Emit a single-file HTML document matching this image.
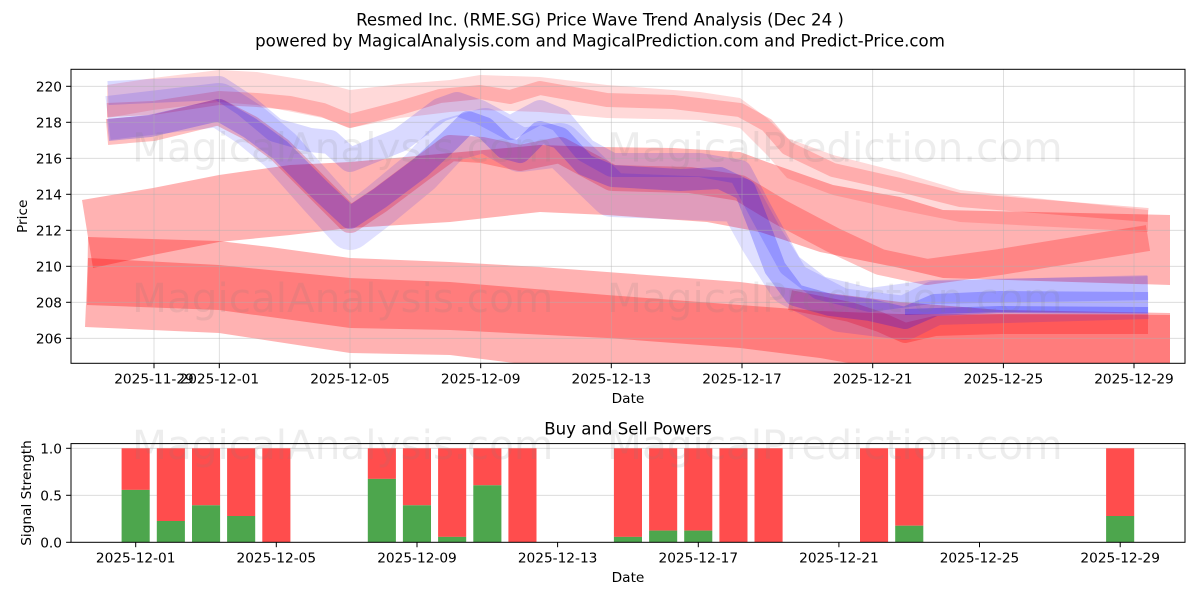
<!DOCTYPE html>
<html>
<head>
<meta charset="utf-8">
<style>
html,body{margin:0;padding:0;background:#fff;}
svg{display:block;}
text{font-family:"DejaVu Sans","Liberation Sans",sans-serif;fill:#000;}
</style>
</head>
<body>
<svg width="1200" height="600" viewBox="0 0 1200 600" xmlns="http://www.w3.org/2000/svg">
<rect x="0" y="0" width="1200" height="600" fill="#fff"/>
<defs>
<clipPath id="ctop"><rect x="71" y="69.3" width="1114" height="294"/></clipPath>
</defs>

<!-- Titles -->
<text x="600" y="25.5" font-size="16.6" text-anchor="middle">Resmed Inc. (RME.SG) Price Wave Trend Analysis (Dec 24 )</text>
<text x="600" y="46.5" font-size="16.6" text-anchor="middle">powered by MagicalAnalysis.com and MagicalPrediction.com and Predict-Price.com</text>

<!-- TOP CHART BANDS -->
<g clip-path="url(#ctop)">
  <!-- faint top pink -->
  <polygon fill="#ff0000" fill-opacity="0.15" points="107,85 153,78 219,70 257,72 323,83 350,90 400,84 450,80 480,75 540,77 607,85 700,92 740,98 767,118 787,138 833,155 900,172 960,190 1148,210 1148,232 960,222 900,210 833,195 787,178 767,155 740,128 700,120 607,118 540,112 480,110 450,112 400,118 350,128 323,118 257,105 219,102 153,110 107,118"/>
  <!-- B band -->
  <polygon fill="#ff0000" fill-opacity="0.3" points="82,200 153,188 219,175 290,165 350,162 450,153 540,145 600,147 673,148 740,152 767,162 833,185 900,197 943,210 1170,215 1170,285 943,278 900,268 820,252 760,232 707,222 607,215 540,212 450,222 350,228 290,235 219,242 153,255 93,268"/>
  <!-- P band -->
  <polygon fill="#ff0000" fill-opacity="0.3" points="88,237 219,241 270,247 350,258 450,262 540,267 607,272 740,282 820,292 900,302 1000,310 1170,313 1170,400 900,372 820,358 740,348 607,338 450,330 350,328 219,310 87,305"/>
  <!-- Q band -->
  <polygon fill="#ff0000" fill-opacity="0.3" points="88,258 219,265 350,278 450,282 607,295 740,305 820,311 900,314 1170,315 1170,420 530,365 450,355 350,353 219,333 85,327"/>

  <g fill="none" stroke-linejoin="round" stroke-linecap="butt">
    <!-- T2 pink -->
    <polyline stroke="#ff0000" stroke-opacity="0.2" stroke-width="14" points="107,110 153,108 219,98 257,100 290,103 323,110 350,121 400,108 440,96 480,92 510,97 540,88 607,100 673,102 740,110 767,125 787,148 833,170 900,185 960,200 1148,215"/>
    <!-- D1 red -->
    <polyline stroke="#ff0000" stroke-opacity="0.25" stroke-width="26" points="107,132 153,128 219,112 250,128 280,150 320,190 350,220 380,200 420,170 450,148 482,150 520,158 560,150 612,178 690,180 740,188 780,212 833,240 880,262 927,272 1000,262 1148,238"/>
    <!-- D2 red -->
    <polyline stroke="#ff0000" stroke-opacity="0.28" stroke-width="20" points="790,300 850,312 880,322 905,333 935,326 1000,324 1148,324"/>
    <!-- Blue halo -->
    <polyline stroke="#0000ff" stroke-opacity="0.12" stroke-width="44" points="108,118 219,105 250,125 280,150 320,195 350,228 380,205 420,172 450,140 485,130 520,150 560,145 612,195 740,200 762,240 790,284 840,310 905,318 935,303 1148,297"/>
    <!-- Blue upper -->
    <polyline stroke="#0000ff" stroke-opacity="0.15" stroke-width="24" points="108,93 219,88 245,105 275,130 310,140 330,142 350,160 400,140 440,110 457,104 480,112 510,128 540,112 560,120 585,150 612,165 700,165 740,172 760,210 790,265 820,288 870,300 930,292 1148,288"/>
    <!-- Blue core -->
    <polyline stroke="#0000ff" stroke-opacity="0.22" stroke-width="22" points="108,130 150,126 219,110 250,128 280,150 320,190 350,218 380,198 420,168 450,140 468,122 485,128 505,148 520,152 540,132 560,138 585,165 612,176 680,180 720,178 745,190 760,228 775,268 795,295 830,305 870,310 905,318 935,305 1000,302 1148,303"/>
    <!-- deep blue line -->
    <polyline stroke="#0000ff" stroke-opacity="0.25" stroke-width="6" points="905,312 1000,309 1148,310"/>
  </g>
</g>

<!-- top grid -->
<g stroke="#b0b0b0" stroke-opacity="0.5" stroke-width="0.8">
  <line x1="154" y1="69.3" x2="154" y2="363.3"/>
  <line x1="219.3" y1="69.3" x2="219.3" y2="363.3"/>
  <line x1="350" y1="69.3" x2="350" y2="363.3"/>
  <line x1="480.7" y1="69.3" x2="480.7" y2="363.3"/>
  <line x1="611.3" y1="69.3" x2="611.3" y2="363.3"/>
  <line x1="742" y1="69.3" x2="742" y2="363.3"/>
  <line x1="872.7" y1="69.3" x2="872.7" y2="363.3"/>
  <line x1="1003.4" y1="69.3" x2="1003.4" y2="363.3"/>
  <line x1="1134" y1="69.3" x2="1134" y2="363.3"/>
  <line x1="71" y1="86.3" x2="1185" y2="86.3"/>
  <line x1="71" y1="122.3" x2="1185" y2="122.3"/>
  <line x1="71" y1="158.3" x2="1185" y2="158.3"/>
  <line x1="71" y1="194.3" x2="1185" y2="194.3"/>
  <line x1="71" y1="230.3" x2="1185" y2="230.3"/>
  <line x1="71" y1="266.3" x2="1185" y2="266.3"/>
  <line x1="71" y1="302.3" x2="1185" y2="302.3"/>
  <line x1="71" y1="338.3" x2="1185" y2="338.3"/>
</g>

<!-- watermarks -->
<g font-size="40.5">
  <text x="132" y="161.5" style="fill:#808080;fill-opacity:0.14">MagicalAnalysis.com</text>
  <text x="607" y="161.5" style="fill:#808080;fill-opacity:0.14">MagicalPrediction.com</text>
  <text x="132" y="312" style="fill:#808080;fill-opacity:0.14">MagicalAnalysis.com</text>
  <text x="607" y="312" style="fill:#808080;fill-opacity:0.14">MagicalPrediction.com</text>
</g>

<!-- top axes frame -->
<rect x="71" y="69.3" width="1114" height="294" fill="none" stroke="#000" stroke-width="1"/>
<g stroke="#000" stroke-width="1">
  <line x1="154" y1="363.3" x2="154" y2="368.2"/>
  <line x1="219.3" y1="363.3" x2="219.3" y2="368.2"/>
  <line x1="350" y1="363.3" x2="350" y2="368.2"/>
  <line x1="480.7" y1="363.3" x2="480.7" y2="368.2"/>
  <line x1="611.3" y1="363.3" x2="611.3" y2="368.2"/>
  <line x1="742" y1="363.3" x2="742" y2="368.2"/>
  <line x1="872.7" y1="363.3" x2="872.7" y2="368.2"/>
  <line x1="1003.4" y1="363.3" x2="1003.4" y2="368.2"/>
  <line x1="1134" y1="363.3" x2="1134" y2="368.2"/>
  <line x1="66.1" y1="86.3" x2="71" y2="86.3"/>
  <line x1="66.1" y1="122.3" x2="71" y2="122.3"/>
  <line x1="66.1" y1="158.3" x2="71" y2="158.3"/>
  <line x1="66.1" y1="194.3" x2="71" y2="194.3"/>
  <line x1="66.1" y1="230.3" x2="71" y2="230.3"/>
  <line x1="66.1" y1="266.3" x2="71" y2="266.3"/>
  <line x1="66.1" y1="302.3" x2="71" y2="302.3"/>
  <line x1="66.1" y1="338.3" x2="71" y2="338.3"/>
</g>
<g font-size="13.7" text-anchor="end">
  <text x="62" y="91.3">220</text>
  <text x="62" y="127.3">218</text>
  <text x="62" y="163.3">216</text>
  <text x="62" y="199.3">214</text>
  <text x="62" y="235.3">212</text>
  <text x="62" y="271.3">210</text>
  <text x="62" y="307.3">208</text>
  <text x="62" y="343.3">206</text>
</g>
<g font-size="13.7" text-anchor="middle">
  <text x="154" y="383.5">2025-11-29</text>
  <text x="219.3" y="383.5">2025-12-01</text>
  <text x="350" y="383.5">2025-12-05</text>
  <text x="480.7" y="383.5">2025-12-09</text>
  <text x="611.3" y="383.5">2025-12-13</text>
  <text x="742" y="383.5">2025-12-17</text>
  <text x="872.7" y="383.5">2025-12-21</text>
  <text x="1003.4" y="383.5">2025-12-25</text>
  <text x="1134" y="383.5">2025-12-29</text>
  <text x="628" y="403">Date</text>
</g>
<text x="27" y="216.3" font-size="13.7" text-anchor="middle" transform="rotate(-90 27 216.3)">Price</text>

<!-- BOTTOM CHART -->
<text x="628" y="434.5" font-size="16.6" text-anchor="middle">Buy and Sell Powers</text>
<g stroke="#b0b0b0" stroke-opacity="0.5" stroke-width="0.8">
  <line x1="71" y1="448.3" x2="1185" y2="448.3"/>
  <line x1="71" y1="495.3" x2="1185" y2="495.3"/>
</g>
<g>
  <g fill="#ff4d4d">
    <rect x="121.6" y="448.3" width="28.1" height="41.6"/>
    <rect x="156.8" y="448.3" width="28.1" height="72.7"/>
    <rect x="192.0" y="448.3" width="28.1" height="57.0"/>
    <rect x="227.1" y="448.3" width="28.1" height="67.7"/>
    <rect x="262.3" y="448.3" width="28.1" height="94.0"/>
    <rect x="367.8" y="448.3" width="28.1" height="30.6"/>
    <rect x="402.9" y="448.3" width="28.1" height="57.0"/>
    <rect x="438.1" y="448.3" width="28.1" height="88.6"/>
    <rect x="473.3" y="448.3" width="28.1" height="37.0"/>
    <rect x="508.4" y="448.3" width="28.1" height="94.0"/>
    <rect x="613.9" y="448.3" width="28.1" height="88.6"/>
    <rect x="649.1" y="448.3" width="28.1" height="82.3"/>
    <rect x="684.2" y="448.3" width="28.1" height="82.3"/>
    <rect x="719.4" y="448.3" width="28.1" height="94.0"/>
    <rect x="754.5" y="448.3" width="28.1" height="94.0"/>
    <rect x="860.0" y="448.3" width="28.1" height="94.0"/>
    <rect x="895.2" y="448.3" width="28.1" height="77.4"/>
    <rect x="1106.1" y="448.3" width="28.1" height="67.7"/>
  </g>
  <g fill="#4da64d">
    <rect x="121.6" y="489.9" width="28.1" height="52.4"/>
    <rect x="156.8" y="521.0" width="28.1" height="21.3"/>
    <rect x="192.0" y="505.3" width="28.1" height="37.0"/>
    <rect x="227.1" y="516.0" width="28.1" height="26.3"/>
    <rect x="367.8" y="478.9" width="28.1" height="63.4"/>
    <rect x="402.9" y="505.3" width="28.1" height="37.0"/>
    <rect x="438.1" y="536.9" width="28.1" height="5.4"/>
    <rect x="473.3" y="485.3" width="28.1" height="57.0"/>
    <rect x="613.9" y="536.9" width="28.1" height="5.4"/>
    <rect x="649.1" y="530.6" width="28.1" height="11.7"/>
    <rect x="684.2" y="530.6" width="28.1" height="11.7"/>
    <rect x="895.2" y="525.7" width="28.1" height="16.6"/>
    <rect x="1106.1" y="516.0" width="28.1" height="26.3"/>
  </g>
</g>
<g font-size="40.5">
  <text x="132" y="459" style="fill:#808080;fill-opacity:0.14">MagicalAnalysis.com</text>
  <text x="607" y="459" style="fill:#808080;fill-opacity:0.14">MagicalPrediction.com</text>
</g>
<rect x="71" y="443.6" width="1114" height="98.7" fill="none" stroke="#000" stroke-width="1"/>
<g stroke="#000" stroke-width="1">
  <line x1="135.7" y1="542.3" x2="135.7" y2="547.2"/>
  <line x1="276.3" y1="542.3" x2="276.3" y2="547.2"/>
  <line x1="417" y1="542.3" x2="417" y2="547.2"/>
  <line x1="557.6" y1="542.3" x2="557.6" y2="547.2"/>
  <line x1="698.3" y1="542.3" x2="698.3" y2="547.2"/>
  <line x1="838.9" y1="542.3" x2="838.9" y2="547.2"/>
  <line x1="979.5" y1="542.3" x2="979.5" y2="547.2"/>
  <line x1="1120.2" y1="542.3" x2="1120.2" y2="547.2"/>
  <line x1="66.1" y1="448.3" x2="71" y2="448.3"/>
  <line x1="66.1" y1="495.3" x2="71" y2="495.3"/>
  <line x1="66.1" y1="542.3" x2="71" y2="542.3"/>
</g>
<g font-size="13.7" text-anchor="end">
  <text x="62" y="453.3">1.0</text>
  <text x="62" y="500.3">0.5</text>
  <text x="62" y="547.3">0.0</text>
</g>
<g font-size="13.7" text-anchor="middle">
  <text x="135.7" y="562.5">2025-12-01</text>
  <text x="276.3" y="562.5">2025-12-05</text>
  <text x="417" y="562.5">2025-12-09</text>
  <text x="557.6" y="562.5">2025-12-13</text>
  <text x="698.3" y="562.5">2025-12-17</text>
  <text x="838.9" y="562.5">2025-12-21</text>
  <text x="979.5" y="562.5">2025-12-25</text>
  <text x="1120.2" y="562.5">2025-12-29</text>
  <text x="628" y="582">Date</text>
</g>
<text x="31" y="493" font-size="13.7" text-anchor="middle" transform="rotate(-90 31 493)">Signal Strength</text>
</svg>
</body>
</html>
